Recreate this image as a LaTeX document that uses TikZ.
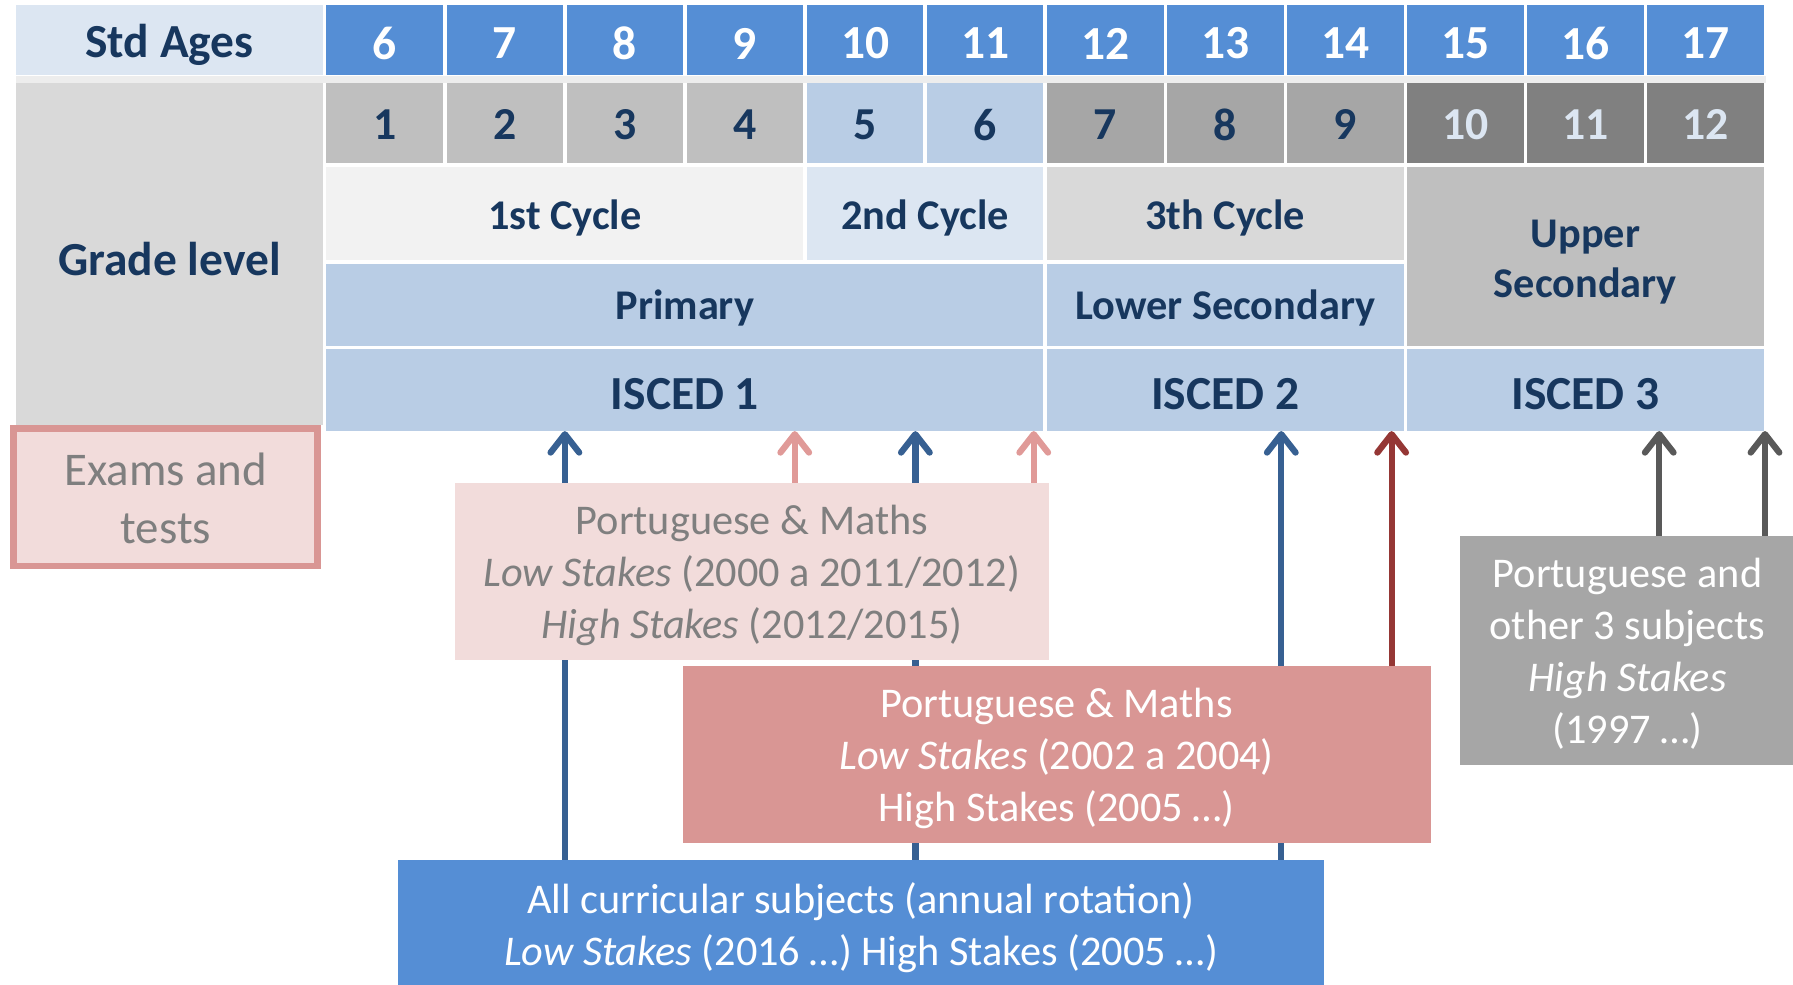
\documentclass[tikz,border=0pt]{standalone}
\usepackage{fontspec}
\setmainfont{Carlito}
\usetikzlibrary{arrows.meta}
\pgfdeclarelayer{bg}
\pgfsetlayers{bg,main}
\definecolor{navy}{HTML}{17375E}
\definecolor{hdrblue}{HTML}{558ED5}
\definecolor{paleblue}{HTML}{DCE6F2}
\definecolor{lblue}{HTML}{B9CDE5}
\definecolor{gA}{HTML}{BFBFBF}
\definecolor{gB}{HTML}{A6A6A6}
\definecolor{gC}{HTML}{808080}
\definecolor{gD}{HTML}{D9D9D9}
\definecolor{gE}{HTML}{F2F2F2}
\definecolor{strip}{HTML}{EDEDED}
\definecolor{pinkfill}{HTML}{F2DCDB}
\definecolor{pinkline}{HTML}{D99694}
\definecolor{redfill}{HTML}{D99694}
\definecolor{txtgray}{HTML}{7F7F7F}
\definecolor{arrblue}{HTML}{376092}
\definecolor{arrpink}{HTML}{E09A98}
\definecolor{arrred}{HTML}{953735}
\definecolor{arrgray}{HTML}{595959}
\newcommand\fhead{\fontsize{41.5}{50}\selectfont\bfseries}
\newcommand\fnum{\fontsize{40}{48}\selectfont\bfseries}
\newcommand\fmidb{\fontsize{37}{44}\selectfont\bfseries}
\newcommand\ftxt{\fontsize{37}{45.5}\selectfont}
\newcommand\fexam{\fontsize{41}{51}\selectfont}
% #1 name, #2 x1, #3 y1, #4 x2, #5 y2, #6 fill, #7 text options, #8 text, #9 text shift
\newcommand\mkcell[9]{%
  \node[cellbox,fill=#6,minimum width={(#4)-(#2)},minimum height={(#5)-(#3)}] (#1) at ({((#2)+(#4))/2},{((#3)+(#5))/2}) {};
  \node[celltext,#7] (#1-t) at ([yshift=-#9pt]#1.center) {#8};}
\tikzset{
  cellbox/.style={inner sep=0pt,outer sep=0pt,draw=none},
  celltext/.style={inner sep=0pt,outer sep=0pt,text=navy,align=center,font=\fmidb},
  arr/.style={line width=5.5pt,-{Straight Barb[length=16pt,width=25pt,round]}},
}
\begin{document}
\begin{tikzpicture}[x=1pt,y=-1pt]
\useasboundingbox (0,0) rectangle (1568,861);
% header row
\mkcell{stdages}{14}{4}{282.5}{66}{paleblue}{font=\fhead}{Std Ages}{4.5}
\foreach \a [count=\i from 0] in {6,...,17}{
  \mkcell{age\a}{285.5+105*\i}{4}{387.5+105*\i}{66}{hdrblue}{text=white,font=\fhead}{\a}{3}
}
\node[inner sep=0pt,outer sep=0pt,fill=strip,minimum width=1530,minimum height=5.5] (stripbar) at (779,69.5) {};
% grade row
\mkcell{gradelevel}{14}{73}{282.5}{372}{gD}{font=\fhead}{Grade level}{4}
\foreach \g/\c/\t [count=\i from 0] in {1/gA/navy,2/gA/navy,3/gA/navy,4/gA/navy,5/lblue/navy,6/lblue/navy,7/gB/navy,8/gB/navy,9/gB/navy,10/gC/paleblue,11/gC/paleblue,12/gC/paleblue}{
  \mkcell{gr\g}{285.5+105*\i}{73}{387.5+105*\i}{142.5}{\c}{text=\t,font=\fnum}{\g}{1.5}
}
% cycles
\mkcell{cyc1}{285.5}{146}{702.5}{227}{gE}{}{1st Cycle}{4}
\mkcell{cyc2}{705.5}{146}{912.5}{227}{paleblue}{}{2nd Cycle}{4}
\mkcell{cyc3}{915.5}{146}{1227.5}{227}{gD}{}{3th Cycle}{4}
\mkcell{upper}{1230.5}{146}{1542.5}{302.5}{gA}{}{Upper\\Secondary}{5}
\mkcell{primary}{285.5}{230.5}{912.5}{302.5}{lblue}{}{Primary}{3}
\mkcell{lower}{915.5}{230.5}{1227.5}{302.5}{lblue}{}{Lower Secondary}{3}
\mkcell{isc1}{285.5}{305.5}{912.5}{377}{lblue}{font=\fhead}{ISCED 1}{3}
\mkcell{isc2}{915.5}{305.5}{1227.5}{377}{lblue}{font=\fhead}{ISCED 2}{3}
\mkcell{isc3}{1230.5}{305.5}{1542.5}{377}{lblue}{font=\fhead}{ISCED 3}{3}
% legend
\node[inner sep=0pt,outer sep=0pt,draw=pinkline,line width=6pt,fill=pinkfill,minimum width=266,minimum height=120] (exams) at (145,435) {};
\node[inner sep=0pt,outer sep=0pt,text=txtgray,align=center,font=\fexam] (exams-t) at ([yshift=-1pt]exams.center) {Exams and\\tests};
% boxes
\mkcell{pinkbox}{398}{422}{917}{577}{pinkfill}{text=txtgray,font=\ftxt}{Portuguese \& Maths\\\textit{Low Stakes} (2000 a 2011/2012)\\\textit{High Stakes} (2012/2015)}{4}
\mkcell{redbox}{597}{582}{1251}{737}{redfill}{text=white,font=\ftxt}{Portuguese \& Maths\\\textit{Low Stakes} (2002 a 2004)\\High Stakes (2005 …)}{4}
\mkcell{allbox}{348}{752}{1158}{862}{hdrblue}{text=white,font=\ftxt}{All curricular subjects (annual rotation)\\\textit{Low Stakes} (2016 …) High Stakes (2005 …)}{4}
\mkcell{graybox}{1276.5}{469}{1570}{669}{gB}{text=white,font=\ftxt}{Portuguese and\\other 3 subjects\\\textit{High Stakes}\\(1997 …)}{2.5}
% arrows
\coordinate (xa) at (494,0);
\coordinate (xb) at (695,0);
\coordinate (xc) at (800.5,0);
\coordinate (xd) at (904,0);
\coordinate (xe) at (1120.5,0);
\coordinate (xf) at (1217,0);
\coordinate (xg) at (1451,0);
\coordinate (xh) at (1543.5,0);
\begin{pgfonlayer}{bg}
\draw[arr,arrblue] (allbox.north -| xa) -- (isc1.south -| xa);
\draw[arr,arrblue] (allbox.north -| xc) -- (isc1.south -| xc);
\draw[arr,arrblue] (allbox.north -| xe) -- (isc2.south -| xe);
\draw[arr,arrpink] (pinkbox.north -| xb) -- (isc1.south -| xb);
\draw[arr,arrpink] (pinkbox.north -| xd) -- (isc1.south -| xd);
\draw[arr,arrred] (redbox.north -| xf) -- (isc2.south -| xf);
\draw[arr,arrgray] (graybox.north -| xg) -- (isc3.south -| xg);
\draw[arr,arrgray] (graybox.north -| xh) -- (isc3.south -| xh);
\end{pgfonlayer}
\end{tikzpicture}
\end{document}
